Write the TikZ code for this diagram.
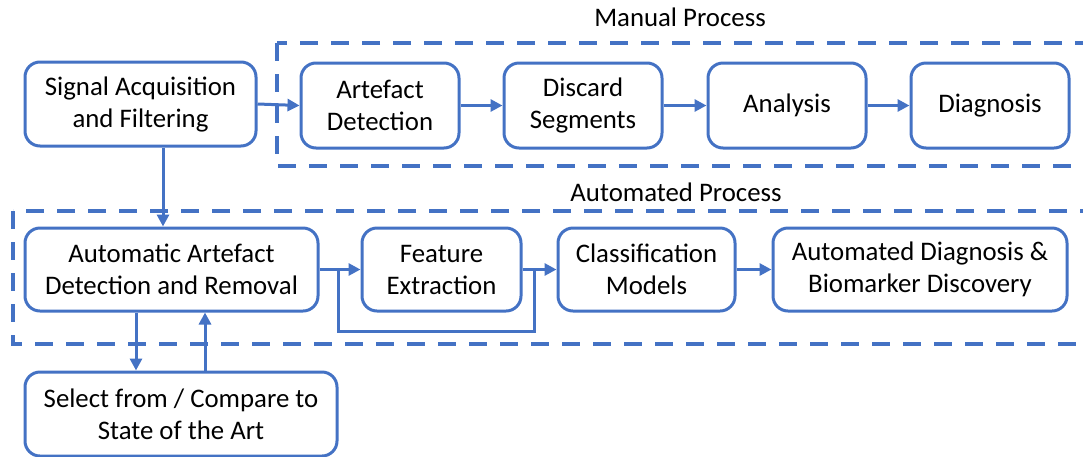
\documentclass[tikz,border=0pt]{standalone}
\usepackage{fontspec}
\setmainfont{Carlito}
\usetikzlibrary{arrows.meta,positioning}
\definecolor{flowblue}{HTML}{4472C4}
\tikzset{
  stepbox/.style={draw=flowblue, line width=3pt, rounded corners=15pt, fill=white,
    align=center, inner sep=0pt, font=\fontsize{26.8}{32}\selectfont},
  groupbox/.style={draw=flowblue, line width=4pt, dash pattern=on 18pt off 13pt},
  flow/.style={draw=flowblue, line width=3pt, -{Triangle[length=12pt,width=12pt]}},
  plain/.style={draw=flowblue, line width=3pt},
  grouplabel/.style={font=\fontsize{26.8}{30}\selectfont},
}
\begin{document}
\begin{tikzpicture}[x=1pt,y=-1pt]
\useasboundingbox (0,0) rectangle (1083,456);
\begin{scope}
\clip (0,0) rectangle (1083,456);
% group frames (open to the right)
\draw[groupbox] (277,43) rectangle (1120,166);
\draw[groupbox] (13,211) rectangle (1120,344);
\end{scope}
\node[grouplabel] (manlabel) at (680,17) {Manual Process};
\node[grouplabel] (autlabel) at (676,192) {Automated Process};

% steps
\node[stepbox, minimum width=231pt, minimum height=84pt] (sig) at (140.5,104) {Signal Acquisition\\and Filtering};
\node[stepbox, minimum width=158pt, minimum height=85pt] (art) at (380,105.5) {Artefact\\Detection};
\node[stepbox, minimum width=158pt, minimum height=85pt] (dis) at (583,105.5) {Discard\\Segments};
\node[stepbox, minimum width=158pt, minimum height=85pt] (ana) at (787,105.5) {Analysis};
\node[stepbox, minimum width=158pt, minimum height=85pt] (dia) at (990,105.5) {Diagnosis};

\node[stepbox, minimum width=293pt, minimum height=83pt] (aad) at (171.5,269.5) {Automatic Artefact\\Detection and Removal};
\node[stepbox, minimum width=159pt, minimum height=83pt] (fea) at (441.5,269.5) {Feature\\Extraction};
\node[stepbox, minimum width=177pt, minimum height=83pt] (cla) at (646.5,269.5) {Classification\\Models};
\node[stepbox, minimum width=294pt, minimum height=83pt] (adb) at (920,269.5) {Automated Diagnosis \&\\Biomarker Discovery};

\node[stepbox, minimum width=312pt, minimum height=84pt] (sel) at (181,414) {Select from / Compare to\\State of the Art};

% connectors
\draw[flow] (sig.east) -- (art.west);
\draw[flow] (art.east) -- (dis.west);
\draw[flow] (dis.east) -- (ana.west);
\draw[flow] (ana.east) -- (dia.west);
\draw[flow] (sig.south -| 163,0) -- (aad.north -| 163,0);

\draw[flow] (aad.east) -- (fea.west);
\draw[flow] (fea.east) -- (cla.west);
\draw[flow] (cla.east) -- (adb.west);

% bypass of feature extraction
\coordinate (byin) at (338,269.5);
\coordinate (byout) at (534,269.5);
\draw[plain, line join=miter] (byin) -- (338,331) -- (534,331) -- (byout);

\draw[flow] (aad.south -| 136,0) -- (sel.north -| 136,0);
\draw[flow] (sel.north -| 205,0) -- (aad.south -| 205,0);
\end{tikzpicture}
\end{document}
